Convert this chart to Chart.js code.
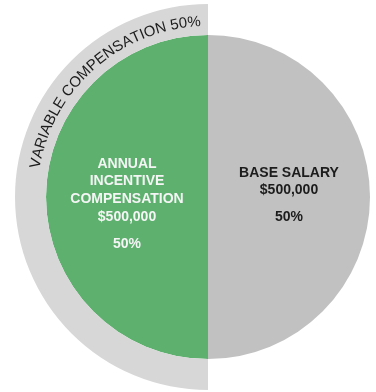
<!DOCTYPE html>
<html>
<head>
<meta charset="utf-8">
<script src="https://cdn.jsdelivr.net/npm/chart.js@4/dist/chart.umd.min.js"></script>
<style>
  html, body { margin: 0; padding: 0; background: #ffffff; overflow: hidden; }
  #chart { display: block; }
</style>
</head>
<body>
<canvas id="chart" width="376" height="392"></canvas>
<script>
// ── DATA ──
// inner pie: clockwise from 12 o'clock (right half first)
const categories  = ['BASE SALARY', 'ANNUAL INCENTIVE COMPENSATION'];
const labelLines  = [['BASE SALARY'], ['ANNUAL', 'INCENTIVE', 'COMPENSATION']];
const amounts     = [500000, 500000];
const shares      = [50, 50];

// outer ring: fixed part is not drawn, variable part wraps the incentive slice
const groups      = ['FIXED COMPENSATION', 'VARIABLE COMPENSATION'];
const groupShares = [50, 50];

// palette
const C_GREEN = '#5db06e';
const C_GRAY  = '#c1c1c1';
const C_RING  = '#d7d7d7';
const C_DARK  = '#1c1c1c';
const C_LIGHT = '#f5f5f5';

const FONT = "'Liberation Sans', Arial, Helvetica, sans-serif";

const fmtMoney = (v) => '$' + v.toLocaleString('en-US');

// ── LABEL PLUGIN ──
const sliceLabels = {
    id: 'sliceLabels',
    afterDatasetsDraw(chart, args, opts) {
        const ctx   = chart.ctx;
        const inner = chart.getDatasetMeta(1);
        const outer = chart.getDatasetMeta(0);

        ctx.save();
        ctx.textAlign = 'center';
        ctx.textBaseline = 'middle';
        ctx.font = 'bold 14px ' + FONT;

        inner.data.forEach((arc, i) => {
            const p = arc.tooltipPosition();
            const lines = labelLines[i].concat([fmtMoney(amounts[i])]);
            let y = p.y + opts.offsetY[i];
            ctx.fillStyle = opts.colors[i];
            lines.forEach((t) => {
                ctx.fillText(t, p.x, y);
                y += opts.lineHeight;
            });
            ctx.fillText(shares[i] + '%', p.x, y - opts.lineHeight + opts.pctGap);
        });

        // curved caption along the variable ring
        const ring = outer.data[1];
        const text = groups[1] + ' ' + groupShares[1] + '%';
        const r    = ring.innerRadius + opts.ringBaseline;
        ctx.font = opts.ringFont + ' ' + FONT;
        ctx.fillStyle = C_DARK;
        ctx.textAlign = 'left';
        ctx.textBaseline = 'alphabetic';
        const total = ctx.measureText(text).width;
        const mid   = ring.endAngle - opts.ringShift;
        let ang = mid - (total / r) / 2;
        for (const ch of text) {
            const w = ctx.measureText(ch).width;
            const a = ang + (w / r) / 2;
            ctx.save();
            ctx.translate(ring.x + r * Math.cos(a), ring.y + r * Math.sin(a));
            ctx.rotate(a + Math.PI / 2);
            ctx.fillText(ch, -w / 2, 0);
            ctx.restore();
            ang += w / r;
        }
        ctx.restore();
    }
};

// ── CHART ──
new Chart(document.getElementById('chart'), {
    type: 'doughnut',
    data: {
        labels: categories,
        datasets: [
            {
                label: 'GROUP',
                data: groupShares,
                backgroundColor: ['rgba(0,0,0,0)', C_RING],
                borderWidth: 0,
                weight: 31
            },
            {
                label: 'COMPENSATION',
                data: shares,
                backgroundColor: [C_GRAY, C_GREEN],
                borderWidth: 0,
                weight: 162
            }
        ]
    },
    options: {
        responsive: false,
        animation: false,
        cutout: 0,
        radius: 193,
        layout: { padding: { left: 40, right: 0, top: 4, bottom: 2 } },
        plugins: {
            legend:  { display: false },
            tooltip: { enabled: false },
            sliceLabels: {
                colors: [C_DARK, C_LIGHT],
                offsetY: [-24, -33],
                lineHeight: 17.6,
                pctGap: 27,
                ringFont: '15px',
                ringBaseline: 9,
                ringShift: 0.73
            }
        }
    },
    plugins: [sliceLabels]
});
</script>
</body>
</html>
